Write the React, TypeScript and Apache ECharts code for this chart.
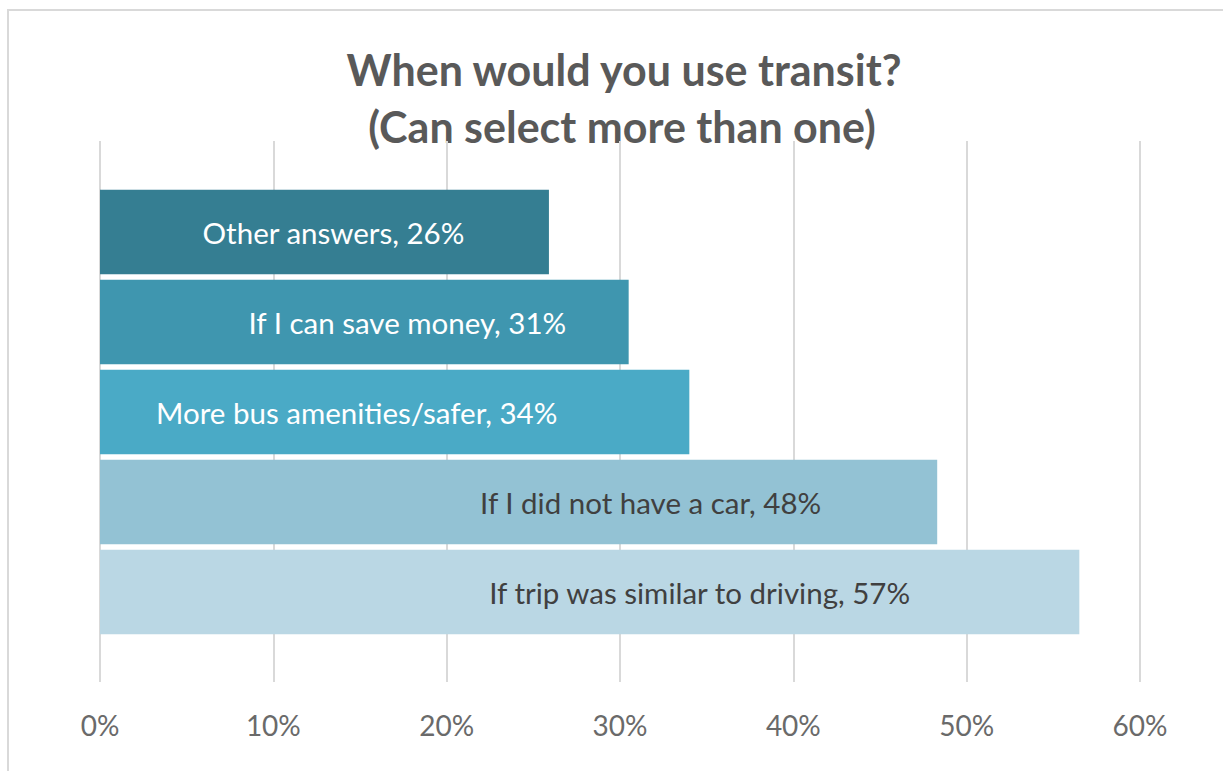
import React, { useEffect, useRef } from "react";
import * as echarts from "echarts";

const titleLines = ["When would you use transit?", "(Can select more than one)"];
const categories = [
  "Other answers",
  "If I can save money",
  "More bus amenities/safer",
  "If I did not have a car",
  "If trip was similar to driving",
];
const values = [25.9, 30.5, 34.0, 48.3, 56.5];
const axisMin = 0;
const axisMax = 60;
const axisStep = 10;

// styling (not data)
const barColors = ["#357e92", "#3f96af", "#4aaac6", "#93c2d4", "#bad7e4"];
const labelColors = ["#ffffff", "#ffffff", "#ffffff", "#404040", "#404040"];
const labelShift = [9, 43, -38, 132, 110];

const FONT = "Lato, 'Open Sans', sans-serif";

export default function App() {
  const ref = useRef<HTMLDivElement>(null);
  useEffect(() => {
    const chart = echarts.init(ref.current!, null, { renderer: "svg" });
    chart.setOption({
      animation: false,
      backgroundColor: "#ffffff",
      textStyle: { fontFamily: FONT },
      graphic: [
        {
          type: "rect",
          shape: { x: 8, y: 10, width: 1400, height: 1000 },
          style: { fill: "none", stroke: "#d9d9d9", lineWidth: 2 },
          silent: true,
        },
        {
          type: "text",
          x: 624,
          y: 69,
          style: {
            text: titleLines[0],
            fill: "#595959",
            font: `bold 43px ${FONT}`,
            textAlign: "center",
            textVerticalAlign: "middle",
          },
        },
        {
          type: "text",
          x: 622,
          y: 126,
          style: {
            text: titleLines[1],
            fill: "#595959",
            font: `bold 43px ${FONT}`,
            textAlign: "center",
            textVerticalAlign: "middle",
          },
        },
      ],
      grid: [
        { left: 100, right: 83, top: 141, bottom: 89 },
        { left: 100, right: 83, top: 187, height: 450 },
      ],
      xAxis: [
        {
          type: "value",
          gridIndex: 0,
          min: axisMin,
          max: axisMax,
          interval: axisStep,
          axisLine: { show: false },
          axisTick: { show: false },
          splitLine: { show: true, lineStyle: { color: "#d9d9d9", width: 2 } },
          axisLabel: {
            formatter: (v: number) => `${v}%`,
            color: "#6a6a6a",
            fontSize: 28,
            fontFamily: FONT,
            margin: 29,
          },
        },
        {
          type: "value",
          gridIndex: 1,
          min: axisMin,
          max: axisMax,
          show: false,
          splitLine: { show: false },
        },
      ],
      yAxis: [
        { type: "value", gridIndex: 0, min: 0, max: 1, show: false, splitLine: { show: false } },
        {
          type: "category",
          gridIndex: 1,
          data: categories,
          inverse: true,
          show: false,
        },
      ],
      series: [
        {
          type: "bar",
          xAxisIndex: 1,
          yAxisIndex: 1,
          barCategoryGap: "6%",
          data: values.map((v, i) => ({
            value: v,
            itemStyle: { color: barColors[i] },
            label: { color: labelColors[i], offset: [labelShift[i], 0] },
          })),
          label: {
            show: true,
            position: "inside",
            fontSize: 29.5,
            fontFamily: FONT,
            formatter: (p: any) => `${p.name}, ${Math.round(p.value)}%`,
          },
        },
      ],
    });
    return () => chart.dispose();
  }, []);
  return (
    <div
      ref={ref}
      style={{ position: "absolute", left: 0, top: 0, width: 1223, height: 771 }}
    />
  );
}
